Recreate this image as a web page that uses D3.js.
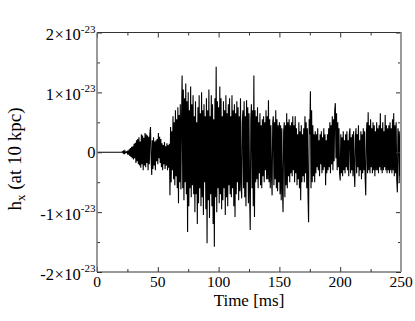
<!DOCTYPE html>
<html>
<head>
<meta charset="utf-8">
<script src="https://cdn.jsdelivr.net/npm/d3@7"></script>
<style>
  body { margin: 0; background: #fff; }
  svg { display: block; }
  text { font-family: "Liberation Serif", "Times New Roman", serif; }
</style>
</head>
<body>
<svg id="chart" width="415" height="321"></svg>
<script>
// strain h_x in units of 1e-23, sampled every 0.5 ms from 20 ms
const startMs = 20;
const stepMs = 0.5;
const hx = [
  // 20-30
  0, 0, 0.01, -0.01, 0.03, -0.03, 0.02, -0.01, 0, 0.01, -0.02, 0.03, -0.04, 0.05, -0.06, 0.07, -0.08, 0.09, -0.1, 0.1,
  // 30-40
  -0.12, 0.14, -0.1, 0.16, -0.18, 0.2, -0.15, 0.22, -0.2, 0.25, -0.22, 0.18, -0.26, 0.3, -0.2, 0.28, -0.3, 0.24, -0.22, 0.32,
  // 40-50
  -0.25, 0.3, -0.18, 0.28, -0.3, 0.26, -0.2, 0.32, 0.42, -0.1, -0.38, 0.2, -0.28, 0.25, -0.22, 0.18, -0.3, 0.2, -0.15, 0.22,
  // 50-60
  -0.2, 0.32, -0.1, 0.26, -0.18, 0.22, -0.25, 0.15, -0.3, 0.12, -0.2, 0.17, -0.28, 0.1, -0.22, 0.15, -0.3, 0.12, -0.26, 0.14,
  // 60-70
  -0.72, 0.42, -0.5, 0.35, -0.3, 0.6, -0.45, 0.5, -0.55, 0.7, -0.4, 0.55, -0.6, 0.75, -0.85, 0.62, -0.5, 0.8, -0.62, 0.55,
  // 70-80
  1.28, -0.6, 1.05, -0.8, 0.9, -0.5, 1.15, -0.7, 0.85, -1.33, 1.0, -0.9, 0.7, -0.6, 1.1, -0.75, 0.8, -0.55, 0.95, -0.7,
  // 80-90
  0.6, -1.0, 0.85, -0.7, 0.5, -1.2, 0.75, -0.85, 0.95, -0.6, 0.65, -0.9, 1.0, -0.75, 0.7, -1.05, 0.8, -0.5, 0.6, -0.95,
  // 90-100
  0.9, -1.52, 0.7, -0.8, 1.05, -1.1, 0.6, -0.7, 0.95, -0.9, 0.8, -1.2, 0.55, -1.58, 0.9, -0.75, 1.43, -1.0, 0.85, -0.6,
  // 100-110
  0.75, -0.85, 1.1, -0.7, 0.9, -0.95, 0.6, -0.8, 0.85, -0.6, 0.7, -1.05, 0.95, -0.75, 0.65, -0.9, 0.8, -0.55, 0.9, -0.7,
  // 110-120
  0.6, -0.75, 0.95, -0.6, 0.7, -0.9, 0.8, -1.08, 0.65, -0.7, 0.85, -0.5, 0.75, -0.8, 0.6, -0.65, 0.9, -0.55, -0.77, 0.5,
  // 120-130
  0.7, -0.6, 0.85, -0.75, 0.6, -0.9, 0.87, -0.5, 0.75, -0.85, 0.65, -0.7, -1.3, 0.55, 0.8, -0.6, 0.7, -0.9, 1.28, -1.08,
  // 130-140
  0.7, -0.5, 0.6, -0.45, 0.75, -0.6, 0.5, -0.35, 0.65, -0.55, 0.45, -0.6, 0.55, -0.4, 0.6, -0.5, 0.5, -0.3, 0.7, -0.45,
  // 140-150
  0.6, -0.45, 0.87, -0.5, 0.55, -0.6, 0.45, -0.4, -0.72, 0.5, 0.6, -0.55, 0.5, -0.45, 0.7, -0.6, 0.55, -0.65, 0.45, -0.5,
  // 150-160
  0.5, -0.7, 0.45, -0.8, 0.4, -0.6, -1.0, 0.35, 0.5, -0.75, 0.45, -0.55, 0.65, -0.6, 0.5, -0.4, 0.55, -0.5, 0.45, -0.35,
  // 160-170
  0.5, -0.4, 0.6, -0.3, 0.45, -0.5, 0.6, -0.35, 0.4, -0.55, 0.3, -0.45, 0.5, -0.6, 0.35, -0.8, 0.45, -0.5, 0.3, -0.4,
  // 170-180
  0.4, -0.5, 0.6, -0.35, 0.5, -0.6, 0.4, -0.7, -1.17, 0.55, 0.3, 1.02, -0.6, 0.7, -0.5, 0.45, -0.4, 0.3, -0.5, 0.35,
  // 180-190
  -0.35, 0.3, -0.25, 0.4, -0.3, 0.2, -0.4, 0.3, -0.2, 0.35, -0.35, 0.25, -0.3, 0.4, -0.25, 0.3, -0.55, 0.2, -0.35, 0.3,
  // 190-200
  -0.3, 0.4, -0.25, 0.5, -0.35, 0.45, -0.2, 0.6, -0.3, 0.55, -0.15, 0.7, 0.82, -0.1, 0.65, -0.3, 0.5, -0.25, 0.4, -0.35,
  // 200-210
  -0.47, 0.3, -0.35, 0.25, -0.4, 0.35, -0.3, 0.2, -0.35, 0.3, -0.25, 0.35, -0.3, 0.2, -0.4, 0.3, 0.4, -0.35, 0.25, -0.3,
  // 210-220
  0.3, -0.4, 0.35, -0.3, -0.58, 0.25, 0.4, -0.35, 0.3, -0.25, 0.45, -0.4, 0.2, -0.3, 0.35, -0.45, 0.3, -0.35, 0.4, -0.3,
  // 220-230
  0.35, -0.4, -0.72, 0.3, 0.5, -0.35, 0.67, -0.3, 0.45, -0.35, 0.55, -0.25, 0.4, -0.35, 0.5, -0.3, 0.45, -0.4, 0.35, -0.3,
  // 230-240
  0.5, -0.3, 0.4, -0.35, 0.45, -0.25, 0.65, -0.3, 0.4, -0.35, 0.5, -0.3, 0.35, -0.25, 0.62, -0.3, 0.45, -0.35, 0.4, -0.3,
  // 240-250
  0.45, -0.35, 0.5, -0.3, 0.4, -0.35, 0.55, -0.3, 0.65, -0.4, 0.45, -0.35, 0.5, -0.45, -0.67, 0.4, 0.3, -0.5, 0.35, -0.4, 0.1
];

const xMajor = [0, 50, 100, 150, 200, 250];
const xMinor = [25, 75, 125, 175, 225];
const yMajor = [-2, -1, 0, 1, 2];
const yMinor = [-1.5, -0.5, 0.5, 1.5];
const yExponent = "-23";

const svg = d3.select("#chart");
const margin = { left: 97, right: 401, top: 32.5, bottom: 272 };

const x = d3.scaleLinear().domain([0, 250]).range([margin.left, margin.right]);
const y = d3.scaleLinear().domain([-2, 2]).range([margin.bottom, margin.top]);

const points = [[0, 0]].concat(hx.map((v, i) => [startMs + i * stepMs, v]));

// signal
svg.append("path")
  .datum(points)
  .attr("fill", "none")
  .attr("stroke", "#000")
  .attr("stroke-width", 1.1)
  .attr("d", d3.line().x(d => x(d[0])).y(d => y(d[1])));

// inward ticks on all four sides
function ticks(axisFn, scale, values, size, tx, ty) {
  const g = svg.append("g")
    .attr("transform", `translate(${tx},${ty})`)
    .call(axisFn(scale).tickValues(values).tickSize(-size).tickFormat(""));
  g.select(".domain").remove();
  g.selectAll("line").attr("stroke", "#333");
  return g;
}
ticks(d3.axisBottom, x, xMajor, 5, 0, margin.bottom);
ticks(d3.axisBottom, x, xMinor, 3, 0, margin.bottom);
ticks(d3.axisTop, x, xMajor, 5, 0, margin.top);
ticks(d3.axisTop, x, xMinor, 3, 0, margin.top);
ticks(d3.axisLeft, y, yMajor, 5, margin.left, 0);
ticks(d3.axisLeft, y, yMinor, 3, margin.left, 0);
ticks(d3.axisRight, y, yMajor, 5, margin.right, 0);
ticks(d3.axisRight, y, yMinor, 3, margin.right, 0);

// frame
svg.append("line").attr("x1", margin.left).attr("x2", margin.right)
  .attr("y1", margin.top).attr("y2", margin.top).attr("stroke", "#333");
svg.append("line").attr("x1", margin.left).attr("x2", margin.right)
  .attr("y1", margin.bottom).attr("y2", margin.bottom).attr("stroke", "#333");
svg.append("line").attr("x1", margin.left).attr("x2", margin.left)
  .attr("y1", margin.top).attr("y2", margin.bottom).attr("stroke", "#777").attr("stroke-width", 1.5);
svg.append("line").attr("x1", margin.right).attr("x2", margin.right)
  .attr("y1", margin.top).attr("y2", margin.bottom).attr("stroke", "#999").attr("stroke-width", 2);

// x tick labels
svg.selectAll(".xlab")
  .data(xMajor)
  .join("text")
  .attr("class", "xlab")
  .attr("x", d => x(d))
  .attr("y", 286.5)
  .attr("text-anchor", "middle")
  .attr("font-size", 15.5)
  .text(d => d);

// y tick labels with power-of-ten notation
yMajor.forEach(v => {
  const t = svg.append("text")
    .attr("x", margin.left - 1.5)
    .attr("text-anchor", "end")
    .attr("font-size", 16.5);
  if (v === 0) {
    t.attr("y", y(v) + 5.5).text("0");
  } else {
    t.attr("y", y(v) + 7.5);
    t.append("tspan").text(`${v < 0 ? "-" : ""}${Math.abs(v)}`);
    t.append("tspan").attr("dx", 0.5).text("\u00d7");
    t.append("tspan").attr("dx", 0.5).text("10");
    t.append("tspan").attr("font-size", 11).attr("dy", -7.5).text(yExponent);
  }
});

// axis titles
svg.append("text")
  .attr("x", (margin.left + margin.right) / 2)
  .attr("y", 305.5)
  .attr("text-anchor", "middle")
  .attr("font-size", 17)
  .text("Time [ms]");

const ylab = svg.append("text")
  .attr("transform", "translate(21,159) rotate(-90)")
  .attr("text-anchor", "middle")
  .attr("font-size", 19);
ylab.append("tspan").text("h");
ylab.append("tspan").attr("font-size", 13).attr("dy", 4).text("x");
ylab.append("tspan").attr("dy", -4).text(" (at 10 kpc)");
</script>
</body>
</html>
